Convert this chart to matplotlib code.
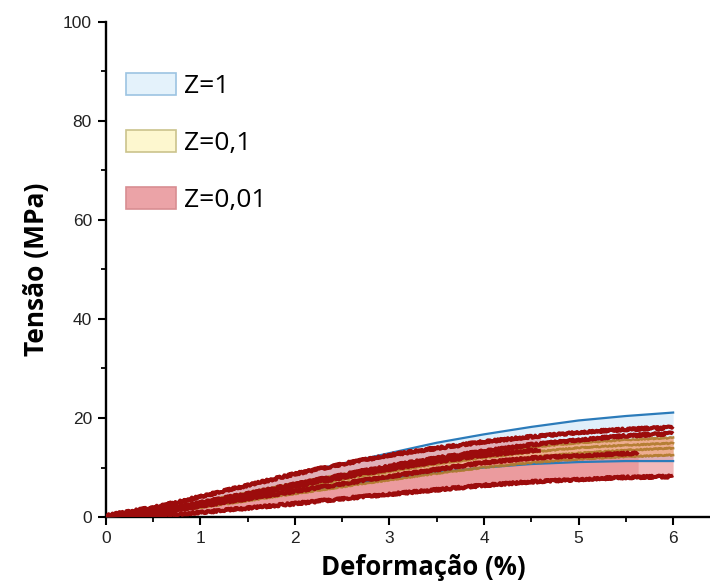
import matplotlib
matplotlib.use("Agg")
import matplotlib.pyplot as plt
from matplotlib.patches import Patch
from matplotlib.ticker import MultipleLocator
import numpy as np

# strain (%) sampling points
strain = [0, 0.5, 1, 1.5, 2, 2.5, 3, 3.5, 4, 4.5, 5, 5.5, 6]

# Z = 1 : envelope curves (MPa)
z1_upper = [0.3, 1.9, 4.1, 6.4, 8.7, 10.8, 12.9, 15.0, 16.7, 18.2, 19.5, 20.4, 21.1]
z1_lower = [0.1, 0.9, 2.1, 3.5, 5.0, 6.4, 7.8, 9.0, 10.0, 10.7, 11.1, 11.3, 11.3]

# Z = 0,1 : specimens (MPa)
z01_a = [0.2, 1.3, 3.0, 4.9, 6.8, 8.6, 10.2, 11.7, 13.0, 14.1, 15.0, 15.6, 16.0]
z01_b = [0.1, 1.0, 2.5, 4.2, 5.9, 7.6, 9.2, 10.7, 12.0, 13.1, 14.0, 14.5, 14.9]
z01_c = [0.1, 0.9, 2.2, 3.7, 5.3, 6.9, 8.4, 9.8, 11.0, 12.1, 12.9, 13.5, 13.9]
z01_d = [0.1, 0.8, 1.9, 3.3, 4.7, 6.1, 7.5, 8.8, 10.0, 11.0, 11.7, 12.2, 12.5]

# Z = 0,01 : specimens (MPa); some broke before 6 %
z001_a = [0.3, 1.9, 4.1, 6.4, 8.7, 10.7, 12.5, 13.9, 15.2, 16.2, 17.1, 17.7, 18.1]
z001_b = [0.2, 1.3, 2.9, 4.7, 6.6, 8.5, 10.3, 11.9, 13.3, 14.6, 15.6, 16.4, 16.9]
z001_c_strain = [0, 0.5, 1, 1.5, 2, 2.5, 3, 3.5, 4, 4.6]
z001_c = [0.2, 1.2, 2.7, 4.4, 6.2, 8.0, 9.7, 11.2, 12.5, 13.6]
z001_d_strain = [0, 0.5, 1, 1.5, 2, 2.5, 3, 3.5, 4, 4.5, 5, 5.63]
z001_d = [0.1, 0.9, 2.2, 3.7, 5.2, 6.7, 8.2, 9.6, 11.0, 11.9, 12.4, 12.9]
z001_e = [0.0, 0.3, 0.9, 1.8, 2.7, 3.7, 4.6, 5.5, 6.4, 7.1, 7.6, 8.0, 8.2]

# upper edge of the Z = 0,01 band once the first specimen has failed
z001_band_strain = [0, 0.5, 1, 1.5, 2, 2.5, 3, 3.5, 4, 4.6, 4.6, 5, 5.5, 6]
z001_band_upper = [0.3, 1.9, 4.1, 6.4, 8.7, 10.7, 12.5, 13.9, 15.2, 16.4, 14.6, 15.3, 15.8, 16.1]

legend_labels = ["Z=1", "Z=0,1", "Z=0,01"]

blue_line = "#2b7bba"
blue_fill = "#e0effa"
yellow_fill = "#fbe9a8"
brown_line = "#b07a2a"
red_line = "#9c0c0c"
pink_fill = "#e06468"

fig = plt.figure(figsize=(7.10, 5.83), dpi=100)
ax = fig.add_axes([0.149, 0.1132, 0.851, 0.8491])

s = np.array(strain)

# shaded envelopes
ax.fill_between(s, z1_lower, z1_upper, color=blue_fill, lw=0, zorder=1)
ax.fill_between(s, z01_d, z01_a, color=yellow_fill, alpha=0.9, lw=0, zorder=2)
band_x = np.array(z001_band_strain)
band_lo = np.interp(band_x, s, z001_e)
ax.fill_between(band_x, band_lo, z001_band_upper, color=pink_fill, alpha=0.45,
                lw=0, zorder=3)
d_x = np.array(z001_d_strain)
ax.fill_between(d_x, np.interp(d_x, s, z001_e), z001_d, color=pink_fill,
                alpha=0.35, lw=0, zorder=3)

# individual curves
for y in (z1_upper, z1_lower):
    ax.plot(s, y, color=blue_line, lw=1.6, zorder=4)

for y in (z01_a, z01_b, z01_c, z01_d):
    ln, = ax.plot(s, y, color=brown_line, lw=1.8, alpha=0.9, zorder=5)
    ln.set_sketch_params(scale=0.6, length=2, randomness=3)

red_curves = [(strain, z001_a), (strain, z001_b), (z001_c_strain, z001_c),
              (z001_d_strain, z001_d), (strain, z001_e)]
for xs, y in red_curves:
    ln, = ax.plot(xs, y, color=red_line, lw=2.8, zorder=6, solid_capstyle="butt")
    ln.set_sketch_params(scale=1.2, length=1.5, randomness=3)

# axes styling
ax.set_xlim(0, 6.39)
ax.set_ylim(0, 100)
for side in ("top", "right"):
    ax.spines[side].set_visible(False)
for side in ("left", "bottom"):
    ax.spines[side].set_linewidth(1.7)
ax.xaxis.set_major_locator(MultipleLocator(1))
ax.xaxis.set_minor_locator(MultipleLocator(0.5))
ax.yaxis.set_major_locator(MultipleLocator(20))
ax.yaxis.set_minor_locator(MultipleLocator(10))
ax.tick_params(which="major", direction="out", length=6, width=1.5,
               labelsize=12.5, pad=4)
ax.tick_params(which="minor", direction="out", length=3.5, width=1.3)
for lbl in ax.get_xticklabels() + ax.get_yticklabels():
    lbl.set_fontfamily("Liberation Sans")
    lbl.set_color("#222222")

ax.set_xlabel("Deformação (%)", fontsize=18.5, fontweight="bold",
              family="Open Sans", labelpad=5)
ax.xaxis.set_label_coords(0.526, -0.075)
ax.set_ylabel("Tensão (MPa)", fontsize=19, fontweight="bold",
              family="Open Sans", labelpad=9)

handles = [
    Patch(facecolor="#e4f2fb", edgecolor="#9cc4e2", lw=1.2),
    Patch(facecolor="#fdf7cf", edgecolor="#cbc38c", lw=1.2),
    Patch(facecolor="#eba3a7", edgecolor="#d88e92", lw=1.2),
]
leg = ax.legend(handles, legend_labels, loc="upper left",
                bbox_to_anchor=(0.033, 0.897), frameon=False,
                borderpad=0, borderaxespad=0,
                handlelength=1.9, handleheight=0.9, labelspacing=1.18,
                handletextpad=0.3, prop={"family": "Open Sans", "size": 19})

fig.savefig("out.png", dpi=100, facecolor="white")
